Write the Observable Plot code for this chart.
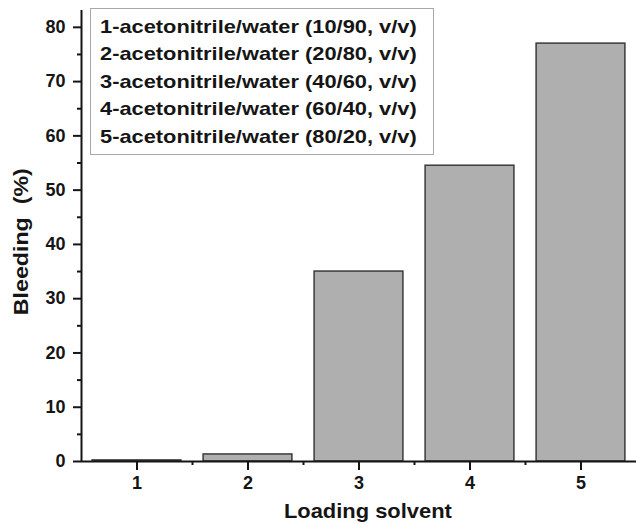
<!DOCTYPE html>
<html><head><meta charset="utf-8">
<script src="https://cdn.jsdelivr.net/npm/d3@7"></script>
<script src="https://cdn.jsdelivr.net/npm/@observablehq/plot@0.6"></script>
<style>
body{margin:0;background:#fff;}
#wrap{position:relative;width:636px;height:524px;font-family:"Liberation Sans",Arial,sans-serif;}
#chart svg [aria-label*="tick label"] text{font-size:18px !important;font-weight:bold !important;}
#legend{position:absolute;left:90px;top:8px;width:344px;height:147px;border:1.5px solid #a8a8a8;box-sizing:border-box;background:#fff;overflow:hidden;}
#legend .inner{position:absolute;left:9px;top:4px;transform:scaleX(1.18);transform-origin:0 0;font-weight:bold;font-size:18.5px;line-height:27.4px;color:#151515;white-space:nowrap;}
</style></head>
<body><div id="wrap"><div id="chart"></div><div id="legend"><div class="inner"></div></div></div>
<script>
const solvents = [1, 2, 3, 4, 5];
const bleeding = [0.2, 1.3, 35.0, 54.5, 77.0];
const legendLabels = [
  "1-acetonitrile/water (10/90, v/v)",
  "2-acetonitrile/water (20/80, v/v)",
  "3-acetonitrile/water (40/60, v/v)",
  "4-acetonitrile/water (60/40, v/v)",
  "5-acetonitrile/water (80/20, v/v)"
];
const yMajor = [0, 10, 20, 30, 40, 50, 60, 70, 80];
const yMinor = [5, 15, 25, 35, 45, 55, 65, 75];
const xMajor = [1, 2, 3, 4, 5];
const xMinor = [1.5, 2.5, 3.5, 4.5];
const xLabel = "Loading solvent";
const yLabel = "Bleeding  (%)";

const data = solvents.map((s, i) => ({s, v: bleeding[i]}));

const chart = Plot.plot({
  width: 636, height: 524,
  marginLeft: 81, marginRight: 0, marginTop: 10, marginBottom: 63,
  style: {fontFamily: "'Liberation Sans', Arial, sans-serif", fontWeight: "bold", fontSize: "17px", color: "#151515", background: "#fff"},
  x: {domain: [0.5, 5.5]},
  y: {domain: [0, 83.1]},
  marks: [
    Plot.rectY(data, {x1: d => d.s - 0.4, x2: d => d.s + 0.4, y: "v", fill: "#afafaf", stroke: "#3a3a3a", strokeWidth: 1.5}),
    Plot.ruleX([0.5], {stroke: "#151515", strokeWidth: 2}),
    Plot.ruleY([0], {stroke: "#151515", strokeWidth: 2.2}),
    Plot.axisY({ticks: yMajor, tickSize: 8, tickPadding: 8, tickFormat: d => String(d), label: null, strokeWidth: 2, fontWeight: "bold", fontSize: 18}),
    Plot.axisY({ticks: yMinor, tickSize: 4, text: null, label: null, strokeWidth: 2}),
    Plot.axisX({ticks: xMajor, tickSize: 9, tickPadding: 6, tickFormat: d => String(d), label: null, strokeWidth: 2, fontWeight: "bold", fontSize: 18}),
    Plot.axisX({ticks: xMinor, tickSize: 4, text: null, label: null, strokeWidth: 2}),
    Plot.text([xLabel], {x: 3.08, frameAnchor: "bottom", dy: 56, fontSize: 21, fontWeight: "bold"}),
    Plot.text([yLabel], {y: 40.5, frameAnchor: "left", textAnchor: "middle", dx: -60, rotate: -90, fontSize: 21, fontWeight: "bold"})
  ]
});
document.getElementById("chart").appendChild(chart);
d3.select(chart).selectAll("text").filter(function(){ return this.textContent === xLabel; })
  .attr("textLength", 168).attr("lengthAdjust", "spacingAndGlyphs");
d3.select(chart).selectAll("text").filter(function(){ return this.textContent === yLabel; })
  .attr("textLength", 147).attr("lengthAdjust", "spacingAndGlyphs");
document.querySelector("#legend .inner").innerHTML = legendLabels.map(t => `<div>${t}</div>`).join("");
</script>
</body></html>
